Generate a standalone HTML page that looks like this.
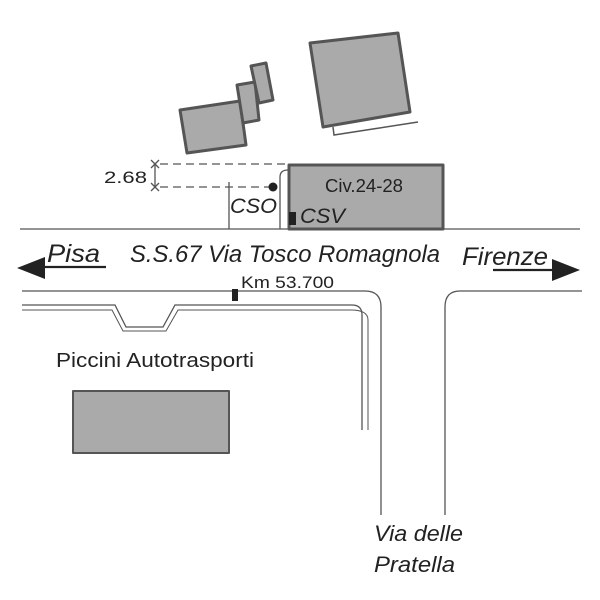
<!DOCTYPE html>
<html><head><style>
body{margin:0;background:#fff}
svg{display:block}
text{font-family:"Liberation Sans",sans-serif;fill:#222}
</style></head><body>
<svg width="600" height="600" viewBox="0 0 600 600" xmlns="http://www.w3.org/2000/svg">
<g fill="#aaa" stroke="#555" stroke-width="3" stroke-linejoin="round">
<polygon points="180,110 240,101 246,145 187,153"/>
<polygon points="237,85 255,82 259,120 243,123"/>
<polygon points="251,66 266,63 273,100 259,103"/>
<polygon points="310,43 398,33 410,112 323,127"/>
<rect x="289" y="165" width="154" height="64"/>
<rect x="73" y="391" width="156" height="62" stroke-width="2"/>
</g>
<polyline points="333,127 334,135 418,122" fill="none" stroke="#555" stroke-width="1.5"/>
<g stroke="#555" stroke-width="1.3" fill="none">
<line x1="160" y1="164" x2="289" y2="164" stroke-dasharray="8,5"/>
<line x1="160" y1="187" x2="273" y2="187" stroke-dasharray="8,5"/>
<line x1="155" y1="164" x2="155" y2="187"/>
<line x1="151" y1="160" x2="159" y2="168"/><line x1="159" y1="160" x2="151" y2="168"/>
<line x1="151" y1="183" x2="159" y2="191"/><line x1="159" y1="183" x2="151" y2="191"/>
<line x1="229" y1="182" x2="229" y2="229"/>
<path d="M280,229 V177 Q280,170 288,170"/>
<line x1="20" y1="229" x2="580" y2="229"/>
<path d="M22,291 H365 Q381,291 381,307 V515"/>
<path d="M582,291 H460 Q445,291 445,307 V515"/>
<path d="M22,305 H115 L126,327 H163 L175,305 H352 Q362,305 362,315 V430"/>
<path d="M22,310 H112 L123,331 H166 L178,310 H351 Q368,310 368,320 V430" stroke-width="1"/>
<line x1="40" y1="267" x2="106" y2="267" stroke="#222" stroke-width="2.2"/>
<line x1="493" y1="270" x2="555" y2="270" stroke="#222" stroke-width="2.2"/>
</g>
<polygon points="17,268 45,257 45,279" fill="#222"/>
<polygon points="580,270 552,259 552,281" fill="#222"/>
<circle cx="273" cy="187" r="4.5" fill="#222"/>
<rect x="289" y="212" width="7" height="13" fill="#222"/>
<rect x="232" y="289" width="6" height="12" fill="#222"/>
<text x="104" y="183" font-size="17" textLength="43" lengthAdjust="spacingAndGlyphs">2.68</text>
<text x="325" y="192" font-size="18" textLength="78" lengthAdjust="spacingAndGlyphs">Civ.24-28</text>
<text x="230" y="213" font-size="21" font-style="italic" textLength="47" lengthAdjust="spacingAndGlyphs">CSO</text>
<text x="300" y="223" font-size="21" font-style="italic" textLength="45" lengthAdjust="spacingAndGlyphs">CSV</text>
<text x="47" y="262" font-size="25" font-style="italic" textLength="53" lengthAdjust="spacingAndGlyphs">Pisa</text>
<text x="130" y="262" font-size="24" font-style="italic" textLength="310" lengthAdjust="spacingAndGlyphs">S.S.67 Via Tosco Romagnola</text>
<text x="462" y="265" font-size="25" font-style="italic" textLength="86" lengthAdjust="spacingAndGlyphs">Firenze</text>
<text x="241" y="288" font-size="17" textLength="93" lengthAdjust="spacingAndGlyphs">Km 53.700</text>
<text x="56" y="367" font-size="20" textLength="198" lengthAdjust="spacingAndGlyphs">Piccini  Autotrasporti</text>
<text x="374" y="541" font-size="22" font-style="italic" textLength="89" lengthAdjust="spacingAndGlyphs">Via delle</text>
<text x="374" y="572" font-size="22" font-style="italic" textLength="81" lengthAdjust="spacingAndGlyphs">Pratella</text>
</svg>
</body></html>
